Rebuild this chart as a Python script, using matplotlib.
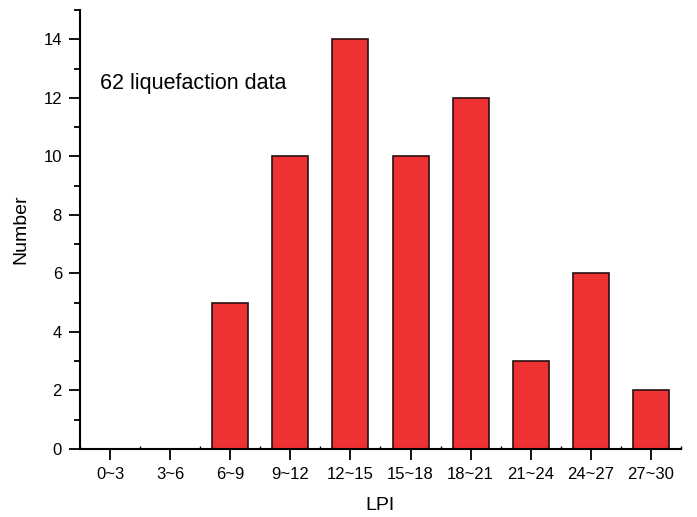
import matplotlib.pyplot as plt
from matplotlib.ticker import MultipleLocator, FixedLocator

plt.rcParams['font.family'] = ['Liberation Sans', 'DejaVu Sans']

categories = ['0~3', '3~6', '6~9', '9~12', '12~15', '15~18', '18~21', '21~24', '24~27', '27~30']
counts = [0, 0, 5, 10, 14, 10, 12, 3, 6, 2]

fig = plt.figure(figsize=(6.97, 5.17), dpi=100)
ax = fig.add_axes([0.1148, 0.1315, 0.977 - 0.1148, 0.9807 - 0.1315])

x = range(len(categories))
ax.bar(x, counts, width=0.6, color='#ee3234', edgecolor='#2a1010', linewidth=1.2, zorder=2)

ax.set_xlim(-0.5, 9.5)
ax.set_ylim(0, 15)
ax.set_xticks(list(x))
ax.set_xticklabels(categories)
ax.xaxis.set_minor_locator(FixedLocator([i + 0.5 for i in range(-1, 10)]))
ax.yaxis.set_major_locator(MultipleLocator(2))
ax.yaxis.set_minor_locator(MultipleLocator(1))

for s in ['top', 'right']:
    ax.spines[s].set_visible(False)
for s in ['left', 'bottom']:
    ax.spines[s].set_linewidth(1.5)

ax.tick_params(axis='both', which='major', length=8, width=1.3, labelsize=12, pad=5)
ax.tick_params(axis='y', which='minor', length=4, width=1.3)
ax.tick_params(axis='x', which='minor', direction='in', length=2, width=1.0)

ax.set_xlabel('LPI', fontsize=14, labelpad=11)
ax.set_ylabel('Number', fontsize=14, labelpad=10)

ax.text(-0.167, 12.29, '62 liquefaction data', fontsize=15.5, va='baseline', ha='left')

fig.savefig('out.png', dpi=100)
